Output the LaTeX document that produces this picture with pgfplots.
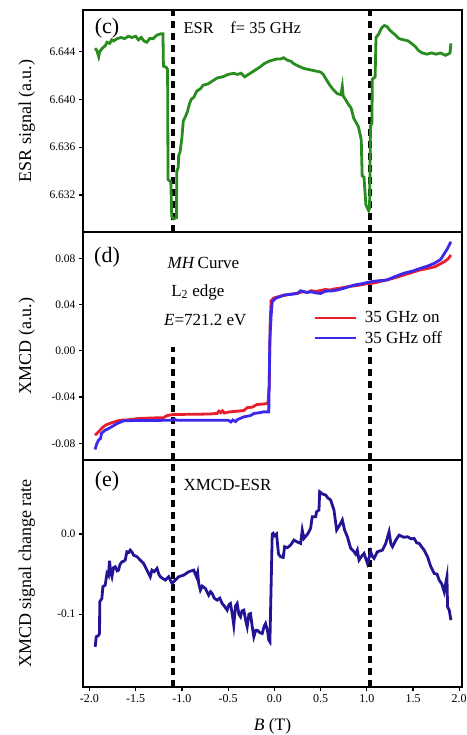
\documentclass[border=0pt]{standalone}
\usepackage{fontspec}
\setmainfont{Liberation Serif}
\usepackage{pgfplots}
\pgfplotsset{compat=1.18}
\definecolor{cgreen}{RGB}{40,140,30}
\definecolor{cred}{RGB}{232,30,45}
\definecolor{cblue}{RGB}{60,40,235}
\definecolor{cnavy}{RGB}{35,20,150}
\begin{document}
\begin{tikzpicture}
\useasboundingbox (0,0) rectangle (466pt,-735pt);
\pgfplotsset{
  panel/.style={
    scale only axis, width=379pt, xmin=-2.07, xmax=2.03,
    axis line style={line width=2.5pt},
    tick style={black, line width=1.2pt}, major tick length=4pt,
    tick align=outside, ytick pos=left, xtick pos=bottom,
    yticklabel style={font=\fontsize{11.5}{12}\selectfont},
    xticklabel style={font=\fontsize{12}{13}\selectfont},
    ylabel style={font=\fontsize{18}{20}\selectfont, at={(axis description cs:-0.148,0.5)}, anchor=center},
    anchor=north west,
  },
  dline/.style={forget plot, black, line width=3.4pt, dash pattern=on 7pt off 5pt},
}
% ---------------- (c)
\begin{axis}[panel, at={(83pt,-10pt)}, height=222pt,
  ymin=6.6289, ymax=6.6475, xtick=\empty,
  ytick={6.632,6.636,6.640,6.644}, yticklabels={6.632,6.636,6.640,6.644},
  ylabel={ESR signal (a.u.)}]
\addplot[dline] coordinates {(-1.095,6.6289)(-1.095,6.6475)};
\addplot[dline] coordinates {(1.035,6.6289)(1.035,6.6475)};
\addplot[cgreen, line width=2.8pt] coordinates {
(-1.94,6.6443)(-1.92,6.6441)(-1.90,6.6436)(-1.89,6.6440)(-1.86,6.6443)(-1.83,6.6445)(-1.81,6.6448)(-1.78,6.6447)(-1.76,6.6450)(-1.74,6.6449)(-1.70,6.6451)(-1.66,6.6452)(-1.62,6.6451)(-1.58,6.6453)(-1.54,6.6452)(-1.50,6.6453)(-1.47,6.6450)(-1.44,6.6452)(-1.41,6.6449)(-1.38,6.6448)(-1.35,6.6451)(-1.31,6.6451)(-1.27,6.6454)(-1.23,6.6455)(-1.205,6.6455)(-1.20,6.6428)(-1.17,6.6427)(-1.155,6.6425)(-1.15,6.6333)(-1.12,6.6331)(-1.11,6.6302)(-1.09,6.6300)(-1.06,6.6301)(-1.055,6.6340)(-1.04,6.6343)(-1.035,6.6353)(-1.02,6.6356)(-1.00,6.6368)(-0.985,6.6382)(-0.96,6.6386)(-0.94,6.6390)(-0.92,6.6396)(-0.90,6.6400)(-0.87,6.6402)(-0.84,6.6407)(-0.80,6.6409)(-0.77,6.6412)(-0.72,6.6413)(-0.68,6.6415)(-0.62,6.6418)(-0.56,6.6419)(-0.50,6.6421)(-0.44,6.6422)(-0.40,6.6421)(-0.36,6.6422)(-0.32,6.6419)(-0.28,6.6421)(-0.24,6.6423)(-0.20,6.6425)(-0.16,6.6427)(-0.11,6.6430)(-0.06,6.6432)(-0.02,6.6433)(0.03,6.6434)(0.07,6.6434)(0.10,6.6435)(0.14,6.6433)(0.18,6.6432)(0.21,6.6430)(0.26,6.6428)(0.32,6.6426)(0.38,6.6425)(0.44,6.6424)(0.50,6.6423)(0.53,6.6421)(0.56,6.6417)(0.60,6.6412)(0.64,6.6408)(0.68,6.6405)(0.72,6.6404)(0.735,6.6411)(0.745,6.6403)(0.77,6.6400)(0.80,6.6396)(0.83,6.6393)(0.86,6.6384)(0.89,6.6380)(0.91,6.6377)(0.93,6.6370)(0.94,6.6366)(0.95,6.6336)(0.97,6.6335)(0.99,6.6312)(1.00,6.6310)(1.02,6.6307)(1.03,6.6309)(1.04,6.6378)(1.055,6.6380)(1.06,6.6417)(1.09,6.6419)(1.10,6.6452)(1.13,6.6455)(1.16,6.6460)(1.19,6.6462)(1.22,6.6461)(1.25,6.6458)(1.28,6.6456)(1.31,6.6454)(1.35,6.6451)(1.40,6.6450)(1.45,6.6449)(1.50,6.6446)(1.53,6.6444)(1.56,6.6441)(1.60,6.6439)(1.65,6.6438)(1.70,6.6439)(1.75,6.6438)(1.80,6.6439)(1.85,6.6437)(1.88,6.6438)(1.90,6.6439)(1.91,6.6447)};
\node[font=\fontsize{22}{24}\selectfont] at (axis cs:-1.81,6.6460) {(c)};
\node[font=\fontsize{16.5}{18}\selectfont, anchor=west] at (axis cs:-1.02,6.6460) {ESR\quad f= 35 GHz};
\end{axis}
% ---------------- (d)
\begin{axis}[panel, at={(83pt,-232pt)}, height=228pt,
  ymin=-0.0944, ymax=0.1027, xtick=\empty,
  ytick={-0.08,-0.04,0,0.04,0.08}, yticklabels={-0.08,-0.04,0.00,0.04,0.08},
  ylabel={XMCD (a.u.)},
  legend style={at={(0.604,0.665)}, anchor=north west, draw=none, fill=white,
    font=\fontsize{17}{19}\selectfont, inner sep=1pt, row sep=3pt,
    /tikz/every odd column/.append style={column sep=6pt}},
  legend cell align=left,
  legend image code/.code={\draw[#1] (0pt,0pt) -- (41pt,0pt);}]
\addplot[dline] coordinates {(-1.095,-0.0944)(-1.095,0.003)};
\addplot[dline] coordinates {(1.035,-0.0944)(1.035,0.1027)};
\addplot[cred, line width=2.8pt] coordinates {
(-1.94,-0.0729)(-1.92,-0.0715)(-1.89,-0.0690)(-1.85,-0.0657)(-1.82,-0.0640)(-1.78,-0.0628)(-1.72,-0.0612)(-1.67,-0.0600)(-1.60,-0.0598)(-1.52,-0.0590)(-1.47,-0.0585)(-1.40,-0.0583)(-1.30,-0.0580)(-1.20,-0.0578)(-1.16,-0.0560)(-1.09,-0.0550)(-1.00,-0.0550)(-0.90,-0.0548)(-0.80,-0.0548)(-0.70,-0.0546)(-0.62,-0.0542)(-0.60,-0.0522)(-0.58,-0.0535)(-0.56,-0.0519)(-0.54,-0.0538)(-0.50,-0.0530)(-0.45,-0.0525)(-0.40,-0.0522)(-0.33,-0.0516)(-0.29,-0.0490)(-0.24,-0.0488)(-0.19,-0.0465)(-0.12,-0.0460)(-0.07,-0.0455)(-0.055,-0.0300)(-0.045,0.0250)(-0.035,0.0432)(-0.01,0.0455)(0.03,0.0465)(0.10,0.0478)(0.18,0.0490)(0.25,0.0497)(0.30,0.0510)(0.36,0.0505)(0.40,0.0520)(0.45,0.0512)(0.50,0.0522)(0.55,0.0530)(0.60,0.0525)(0.65,0.0535)(0.70,0.0540)(0.80,0.0555)(0.90,0.0565)(1.00,0.0580)(1.07,0.0585)(1.12,0.0595)(1.20,0.0610)(1.30,0.0630)(1.40,0.0655)(1.50,0.0680)(1.58,0.0700)(1.65,0.0710)(1.73,0.0725)(1.78,0.0745)(1.84,0.0771)(1.88,0.0795)(1.91,0.0828)};
\addlegendentry{35 GHz on}
\addplot[cblue, line width=2.8pt] coordinates {
(-1.94,-0.0853)(-1.92,-0.0801)(-1.90,-0.0770)(-1.88,-0.0758)(-1.87,-0.0714)(-1.83,-0.0686)(-1.80,-0.0675)(-1.76,-0.0657)(-1.70,-0.0628)(-1.63,-0.0605)(-1.50,-0.0603)(-1.30,-0.0602)(-1.10,-0.0600)(-1.08,-0.0590)(-1.06,-0.0600)(-0.90,-0.0600)(-0.70,-0.0600)(-0.50,-0.0600)(-0.47,-0.0615)(-0.45,-0.0598)(-0.42,-0.0612)(-0.40,-0.0595)(-0.33,-0.0571)(-0.26,-0.0560)(-0.22,-0.0542)(-0.16,-0.0535)(-0.12,-0.0528)(-0.06,-0.0528)(-0.049,0.0092)(-0.035,0.0300)(-0.023,0.0424)(0.013,0.0453)(0.103,0.0482)(0.20,0.0490)(0.248,0.0496)(0.284,0.0519)(0.35,0.0505)(0.40,0.0510)(0.45,0.0500)(0.50,0.0496)(0.55,0.0515)(0.62,0.0518)(0.68,0.0525)(0.75,0.0540)(0.86,0.0568)(0.95,0.0580)(1.04,0.0597)(1.12,0.0605)(1.22,0.0612)(1.30,0.0640)(1.40,0.0670)(1.50,0.0690)(1.58,0.0713)(1.65,0.0730)(1.73,0.0756)(1.80,0.0790)(1.84,0.0842)(1.87,0.0880)(1.91,0.0943)};
\addlegendentry{35 GHz off}
\node[font=\fontsize{22}{24}\selectfont] at (axis cs:-1.81,0.081) {(d)};
\node[font=\fontsize{17}{19}\selectfont] at (axis cs:-0.767,0.0759) {\textit{MH}\,Curve};
\node[font=\fontsize{17}{19}\selectfont] at (axis cs:-0.827,0.0508) {L\textsubscript{2} edge};
\node[font=\fontsize{17}{19}\selectfont] at (axis cs:-0.746,0.0266) {\textit{E}=721.2 eV};
\end{axis}
% ---------------- (e)
\begin{axis}[panel, at={(83pt,-460pt)}, height=227pt,
  ymin=-0.191, ymax=0.0925,
  ytick={-0.1,0}, yticklabels={-0.1,0.0},
  xtick={-2,-1.5,-1,-0.5,0,0.5,1,1.5,2},
  xticklabels={-2.0,-1.5,-1.0,-0.5,0.0,0.5,1.0,1.5,2.0},
  ylabel={XMCD signal change rate},
  xlabel={\textit{B} (T)},
  xlabel style={font=\fontsize{17.5}{19}\selectfont, at={(axis description cs:0.5,0)}, anchor=center, yshift=-39pt}]
\addplot[dline] coordinates {(-1.095,-0.191)(-1.095,0.0925)};
\addplot[dline] coordinates {(1.035,-0.191)(1.035,0.0925)};
\addplot[cnavy, line width=2.8pt] coordinates {
(-1.938,-0.1408)(-1.927,-0.1283)(-1.905,-0.1270)(-1.891,-0.1242)(-1.889,-0.0846)(-1.866,-0.0804)(-1.855,-0.0658)(-1.830,-0.0638)(-1.811,-0.0492)(-1.795,-0.0520)(-1.783,-0.0333)(-1.770,-0.0480)(-1.757,-0.0533)(-1.740,-0.0420)(-1.721,-0.0408)(-1.700,-0.0460)(-1.685,-0.0450)(-1.670,-0.0380)(-1.649,-0.0346)(-1.630,-0.0340)(-1.613,-0.0325)(-1.595,-0.0221)(-1.575,-0.0230)(-1.559,-0.0200)(-1.540,-0.0225)(-1.523,-0.0263)(-1.486,-0.0283)(-1.450,-0.0325)(-1.414,-0.0367)(-1.378,-0.0450)(-1.342,-0.0533)(-1.324,-0.0450)(-1.300,-0.0470)(-1.269,-0.0429)(-1.250,-0.0500)(-1.234,-0.0533)(-1.200,-0.0560)(-1.179,-0.0575)(-1.143,-0.0533)(-1.107,-0.0617)(-1.071,-0.0575)(-1.035,-0.0533)(-0.981,-0.0513)(-0.927,-0.0471)(-0.872,-0.0450)(-0.843,-0.0533)(-0.830,-0.0480)(-0.818,-0.0617)(-0.800,-0.0700)(-0.780,-0.0650)(-0.746,-0.0679)(-0.710,-0.0763)(-0.690,-0.0720)(-0.673,-0.0742)(-0.650,-0.0800)(-0.619,-0.0825)(-0.590,-0.0800)(-0.565,-0.0867)(-0.540,-0.0900)(-0.511,-0.0950)(-0.490,-0.0880)(-0.475,-0.0867)(-0.455,-0.1000)(-0.439,-0.1138)(-0.420,-0.0900)(-0.402,-0.0867)(-0.384,-0.1000)(-0.366,-0.1033)(-0.350,-0.0960)(-0.330,-0.0950)(-0.310,-0.1080)(-0.294,-0.1158)(-0.275,-0.1000)(-0.258,-0.0992)(-0.240,-0.1150)(-0.222,-0.1283)(-0.200,-0.1200)(-0.185,-0.1200)(-0.160,-0.1230)(-0.131,-0.1242)(-0.110,-0.1150)(-0.095,-0.1117)(-0.075,-0.1200)(-0.060,-0.1325)(-0.048,-0.1346)(-0.023,0.0000)(-0.012,0.0010)(0.005,-0.0020)(0.024,0.0000)(0.045,-0.0250)(0.067,-0.0283)(0.096,-0.0292)(0.111,-0.0158)(0.140,-0.0170)(0.176,-0.0138)(0.212,-0.0075)(0.250,-0.0100)(0.284,-0.0117)(0.302,0.0050)(0.320,-0.0054)(0.360,0.0000)(0.392,0.0071)(0.410,0.0217)(0.447,0.0217)(0.457,0.0279)(0.483,0.0300)(0.490,0.0529)(0.520,0.0500)(0.555,0.0488)(0.580,0.0450)(0.609,0.0425)(0.645,0.0300)(0.674,0.0050)(0.700,0.0100)(0.718,0.0133)(0.736,0.0175)(0.760,0.0050)(0.790,-0.0033)(0.826,-0.0179)(0.862,-0.0221)(0.880,-0.0250)(0.898,-0.0200)(0.916,-0.0325)(0.953,-0.0263)(0.970,-0.0242)(1.007,-0.0367)(1.043,-0.0221)(1.060,-0.0280)(1.079,-0.0304)(1.115,-0.0221)(1.170,-0.0200)(1.205,-0.0117)(1.241,0.0029)(1.260,-0.0120)(1.278,-0.0158)(1.314,-0.0075)(1.350,-0.0013)(1.400,-0.0040)(1.440,-0.0033)(1.480,-0.0060)(1.512,-0.0054)(1.540,-0.0110)(1.567,-0.0117)(1.600,-0.0170)(1.621,-0.0200)(1.657,-0.0283)(1.693,-0.0408)(1.729,-0.0492)(1.760,-0.0500)(1.783,-0.0575)(1.810,-0.0620)(1.837,-0.0721)(1.867,-0.0533)(1.874,-0.0908)(1.892,-0.0950)(1.910,-0.1075)};
\node[font=\fontsize{22}{24}\selectfont] at (axis cs:-1.81,0.066) {(e)};
\node[font=\fontsize{17}{19}\selectfont, anchor=west] at (axis cs:-1.02,0.061) {XMCD-ESR};
\end{axis}
\end{tikzpicture}
\end{document}
